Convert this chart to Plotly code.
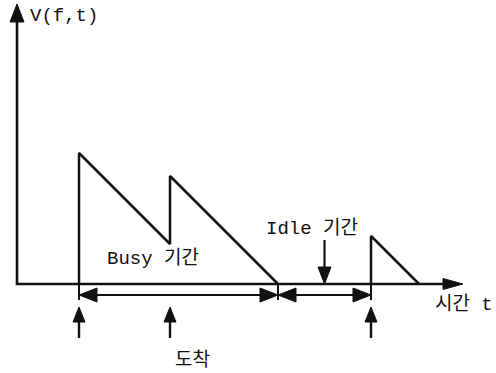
import plotly.graph_objects as go

# Arrival instants and the work each arrival brings (time units)
arrival_t = [6.2, 15.3, 35.4]
work = [13.1, 6.8, 4.8]

# Axis extents
t_axis_end = 44.6
v_axis_end = 28.0

# Text labels
label_v = "V(f,t)"
label_time = "시간 t"
label_busy = "Busy 기간"
label_idle = "Idle 기간"
label_arrival = "도착"

PX = 10.0            # pixels per data unit (both axes)
W, H = 496, 373
ORIGIN_PX = (17, 284)
INK = "#111111"
FONT = dict(family="Liberation Mono, Noto Sans CJK KR, monospace", size=19, color=INK)


def u(px):
    return px / PX


# Virtual waiting time: jumps by the work at each arrival, then drains at unit rate
saw_t, saw_v = [], []
busy = []
v, t_prev, start = 0.0, None, None
for a, w in zip(arrival_t, work):
    if t_prev is not None:
        left = v - (a - t_prev)
        if left <= 0:
            saw_t += [t_prev + v, None]
            saw_v += [0.0, None]
            busy.append((start, t_prev + v))
            v, start = 0.0, None
        else:
            v = left
    if start is None:
        start = a
    saw_t += [a, a]
    saw_v += [v, v + w]
    v += w
    t_prev = a
saw_t.append(t_prev + v)
saw_v.append(0.0)
busy.append((start, t_prev + v))
idle = [(busy[i][1], busy[i + 1][0]) for i in range(len(busy) - 1)]


def tri(x, y, direction, length_px, half_px):
    L, h = u(length_px), u(half_px)
    if direction == "up":
        return [x, x - h, x + h, x, None], [y, y - L, y - L, y, None]
    if direction == "down":
        return [x, x - h, x + h, x, None], [y, y + L, y + L, y, None]
    if direction == "right":
        return [x, x - L, x - L, x, None], [y, y - h, y + h, y, None]
    return [x, x + L, x + L, x, None], [y, y - h, y + h, y, None]


fig = go.Figure()


def line(xs, ys, width):
    fig.add_trace(go.Scatter(x=xs, y=ys, mode="lines",
                             line=dict(color=INK, width=width),
                             hoverinfo="skip", showlegend=False))


heads_x, heads_y = [], []


def head(*args):
    hx, hy = tri(*args)
    heads_x.extend(hx)
    heads_y.extend(hy)


# Axes
line([0, 0, t_axis_end - u(18)], [v_axis_end - u(16), 0, 0], 2.6)
head(0, v_axis_end, "up", 18, 7)
head(t_axis_end, 0, "right", 20, 5.5)

# Sawtooth
line(saw_t, saw_v, 2.5)

# Dimension lines for the busy and idle periods
dim_y = -u(11)
tick_bottom = -u(16)
marks = sorted({busy[0][0], busy[0][1], idle[0][1]})
for m in marks:
    line([m, m], [0, tick_bottom], 2.0)
for a, b in [busy[0], idle[0]]:
    line([a + u(10), b - u(10)], [dim_y, dim_y], 1.8)
    head(a, dim_y, "left", 18, 7)
    head(b, dim_y, "right", 18, 7)

# Arrival arrows under the axis
arr_tip = -u(23)
arr_base = -u(54)
for a in arrival_t:
    line([a, a], [arr_tip - u(10), arr_base], 2.4)
    head(a, arr_tip, "up", 15, 6)

# Arrow pointing at the idle period
idle_mid = (idle[0][0] + idle[0][1]) / 2
line([idle_mid, idle_mid], [u(44), u(10)], 2.2)
head(idle_mid, 0, "down", 17, 6.5)

fig.add_trace(go.Scatter(x=heads_x, y=heads_y, mode="lines", fill="toself",
                         fillcolor=INK, line=dict(color=INK, width=1),
                         hoverinfo="skip", showlegend=False))


# Labels
def text(x, y, s, xanchor="left"):
    fig.add_annotation(x=x, y=y, text=s, showarrow=False, xanchor=xanchor,
                       yanchor="middle", font=FONT)


text(u(11), v_axis_end - u(12), label_v)
text(busy[0][0] + u(26), u(26), label_busy)
text(idle[0][0] - u(14), u(56), label_idle)
text(t_axis_end - u(30), -u(20), label_time)
text(u(175), -u(76), label_arrival, xanchor="center")

ox, oy = ORIGIN_PX
fig.update_layout(
    width=W, height=H,
    margin=dict(l=0, r=0, t=0, b=0),
    paper_bgcolor="white", plot_bgcolor="white",
    xaxis=dict(range=[-u(ox), u(W - ox)], visible=False, fixedrange=True),
    yaxis=dict(range=[-u(H - oy), u(oy)], visible=False, fixedrange=True),
)

fig.write_html("out.html")
